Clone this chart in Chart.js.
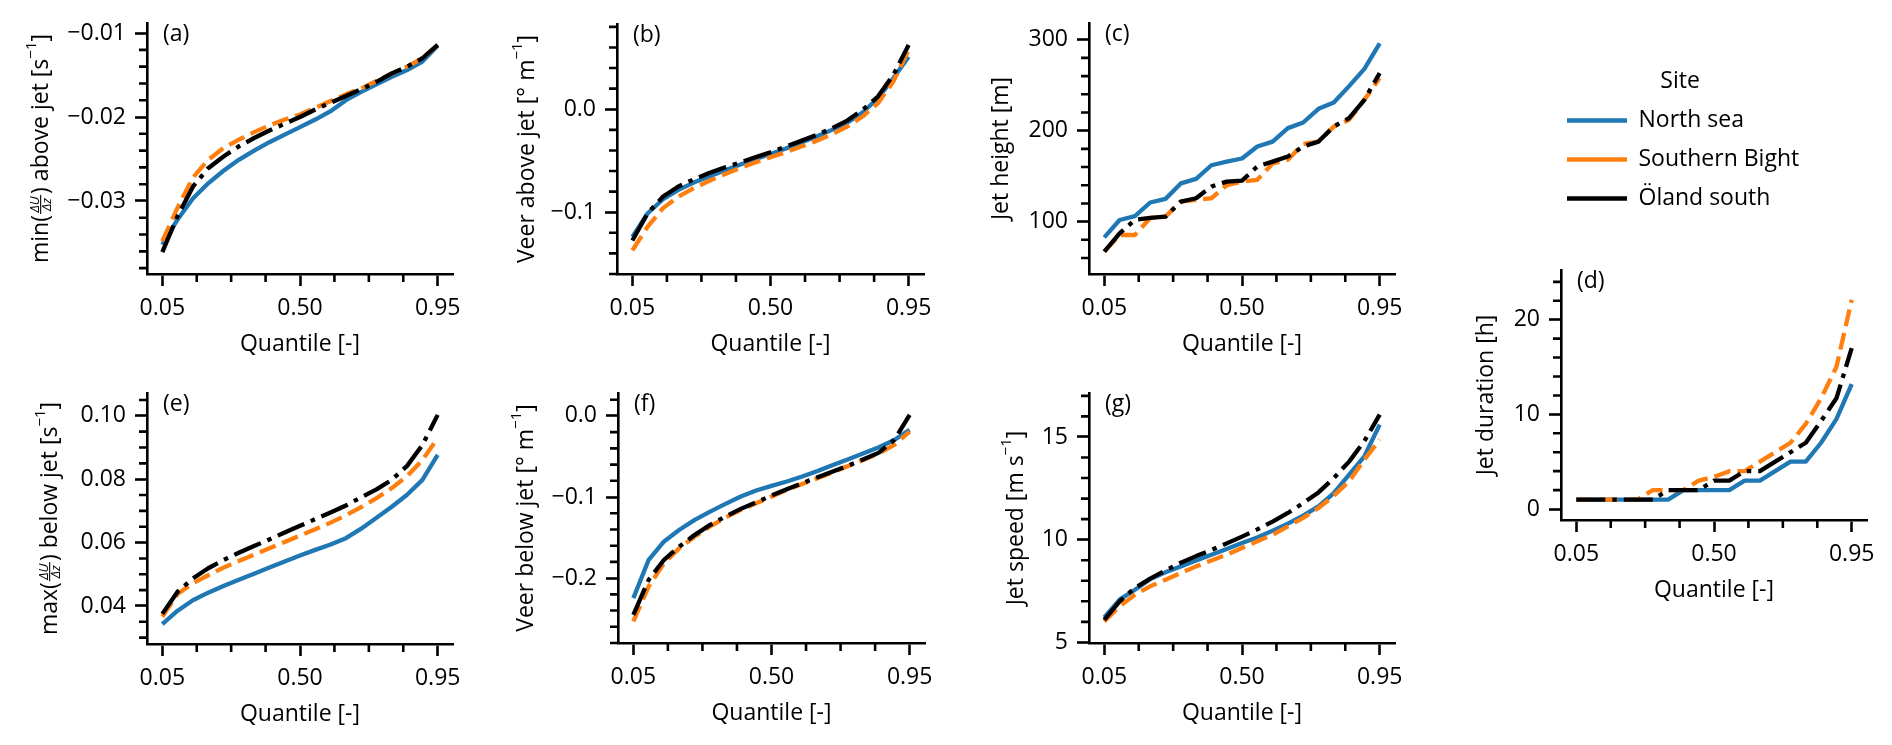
<!DOCTYPE html>
<html>
<head>
<meta charset="utf-8">
<title>Jet quantiles</title>
<script src="https://cdn.jsdelivr.net/npm/chart.js@4.4.1/dist/chart.umd.min.js"></script>
<style>
  html, body { margin: 0; padding: 0; background: #fff; }
  body { width: 1892px; height: 745px; position: relative; overflow: hidden; }
  canvas { position: absolute; }
</style>
</head>
<body>
<script>
// Shared quantile axis
const quantiles = [0.05, 0.10, 0.15, 0.20, 0.25, 0.30, 0.35, 0.40, 0.45, 0.50,
                   0.55, 0.60, 0.65, 0.70, 0.75, 0.80, 0.85, 0.90, 0.95];
const xTickValues = [0.05, 0.50, 0.95];
const xTickLabels = ['0.05', '0.50', '0.95'];
const xMinorTicks = [0.1625, 0.275, 0.3875, 0.6125, 0.725, 0.8375];

const sites = ['North sea', 'Southern Bight', 'Öland south'];

// (a) min shear above jet [s^-1]
const shearAboveNorthSea = [-0.0352, -0.0322, -0.0297, -0.0279, -0.0264, -0.0251, -0.0240, -0.0230, -0.0221, -0.0212,
                            -0.0203, -0.0193, -0.0180, -0.0170, -0.0161, -0.0152, -0.0144, -0.0134, -0.0115];
const shearAboveSouthernBight = [-0.0348, -0.0308, -0.0272, -0.0251, -0.0237, -0.0227, -0.0218, -0.0210, -0.0203, -0.0197,
                                 -0.0189, -0.0181, -0.0173, -0.0166, -0.0157, -0.0148, -0.0140, -0.0130, -0.0114];
const shearAboveOland = [-0.0361, -0.0318, -0.0283, -0.0261, -0.0247, -0.0235, -0.0225, -0.0216, -0.0208, -0.0200,
                         -0.0191, -0.0183, -0.0175, -0.0167, -0.0158, -0.0148, -0.0140, -0.0130, -0.0114];
const shearAboveTicks = [-0.03, -0.02, -0.01];
const shearAboveTickLabels = ['−0.03', '−0.02', '−0.01'];

// (b) veer above jet [deg m^-1]
const veerAboveNorthSea = [-0.124, -0.101, -0.0874, -0.0783, -0.0712, -0.0654, -0.0595, -0.054, -0.0485, -0.0434,
                           -0.0382, -0.0324, -0.0265, -0.020, -0.013, -0.0032, 0.0107, 0.030, 0.051];
const veerAboveSouthernBight = [-0.137, -0.114, -0.096, -0.0848, -0.0767, -0.0696, -0.0631, -0.0573, -0.0518, -0.0466,
                                -0.0417, -0.0362, -0.0307, -0.0243, -0.0168, -0.0071, 0.0058, 0.0269, 0.0576];
const veerAboveOland = [-0.1275, -0.101, -0.0848, -0.075, -0.068, -0.062, -0.0566, -0.0518, -0.0466, -0.0417,
                        -0.0362, -0.0307, -0.0249, -0.0184, -0.011, -0.0006, 0.0123, 0.0333, 0.0625];
const veerAboveTicks = [-0.1, 0.0];
const veerAboveTickLabels = ['−0.1', '0.0'];

// (c) jet height [m]
const heightNorthSea = [82.7, 101.8, 106, 121, 125, 142, 147, 162, 166, 169.4,
                        182.6, 188, 202.8, 209, 224, 231, 249, 268, 296];
const heightSouthernBight = [67, 85.3, 85.3, 104, 105.5, 122, 124, 125.7, 140, 144,
                             146, 164, 168, 185.5, 188, 204.6, 212, 234, 258];
const heightOland = [67, 87, 102, 104, 105.5, 122, 125.7, 138.5, 144, 145,
                     160.6, 166, 171.6, 182.6, 188, 204.6, 213.8, 234, 263.3];
const heightTicks = [100, 200, 300];
const heightTickLabels = ['100', '200', '300'];

// (d) jet duration [h]
const durationNorthSea = [1, 1, 1, 1, 1, 1, 1, 2, 2, 2, 2, 3, 3, 4, 5, 5, 7, 9.5, 13.2];
const durationSouthernBight = [1, 1, 1, 1, 1, 2, 2, 2, 3, 3.4, 4, 4, 5, 6, 7, 9, 11.7, 15, 22.1];
const durationOland = [1, 1, 1, 1, 1, 1, 2, 2, 2, 3, 3, 4, 4, 5, 6, 7, 9.3, 11.7, 17];
const durationTicks = [0, 10, 20];
const durationTickLabels = ['0', '10', '20'];

// (e) max shear below jet [s^-1]
const shearBelowNorthSea = [0.0343, 0.0385, 0.0418, 0.0442, 0.0463, 0.0483, 0.0502, 0.0521, 0.054, 0.0559,
                            0.0577, 0.0594, 0.0614, 0.0644, 0.0678, 0.0713, 0.0751, 0.0798, 0.0877];
const shearBelowSouthernBight = [0.0366, 0.0438, 0.0472, 0.0497, 0.0521, 0.0542, 0.0562, 0.0582, 0.0602, 0.0622,
                                 0.0642, 0.0663, 0.0686, 0.0712, 0.0740, 0.0772, 0.0810, 0.0860, 0.093];
const shearBelowOland = [0.0375, 0.0445, 0.0487, 0.0519, 0.0545, 0.0568, 0.0589, 0.061, 0.0632, 0.0653,
                         0.0674, 0.0695, 0.0717, 0.0743, 0.0768, 0.0798, 0.0842, 0.0908, 0.1003];
const shearBelowTicks = [0.04, 0.06, 0.08, 0.10];
const shearBelowTickLabels = ['0.04', '0.06', '0.08', '0.10'];

// (f) veer below jet [deg m^-1]
const veerBelowNorthSea = [-0.2246, -0.1774, -0.1548, -0.1404, -0.1281, -0.1179, -0.1084, -0.0994, -0.092, -0.0862,
                           -0.0809, -0.0747, -0.0678, -0.0604, -0.0534, -0.046, -0.0386, -0.0296, -0.0172];
const veerBelowSouthernBight = [-0.2534, -0.2103, -0.1815, -0.163, -0.1487, -0.1363, -0.1253, -0.1158, -0.1076, -0.0994,
                                -0.0912, -0.0838, -0.0768, -0.0694, -0.0616, -0.0542, -0.046, -0.0357, -0.0193];
const veerBelowOland = [-0.2452, -0.202, -0.1774, -0.161, -0.1466, -0.1343, -0.124, -0.1146, -0.1064, -0.0982,
                        -0.0903, -0.083, -0.0756, -0.0686, -0.0612, -0.0534, -0.0452, -0.0296, 0.0012];
const veerBelowTicks = [-0.2, -0.1, 0.0];
const veerBelowTickLabels = ['−0.2', '−0.1', '0.0'];

// (g) jet speed [m s^-1]
const speedNorthSea = [6.22, 7.08, 7.56, 8.08, 8.41, 8.7, 8.99, 9.27, 9.55, 9.84,
                       10.11, 10.44, 10.78, 11.17, 11.62, 12.27, 13.17, 14.06, 15.6];
const speedSouthernBight = [6.02, 6.75, 7.32, 7.73, 8.05, 8.38, 8.70, 8.99, 9.27, 9.59,
                            9.92, 10.24, 10.65, 11.06, 11.54, 12.14, 12.84, 13.9, 14.87];
const speedOland = [6.10, 7.0, 7.65, 8.1, 8.5, 8.88, 9.2, 9.5, 9.82, 10.15,
                    10.5, 10.88, 11.3, 11.78, 12.3, 13.0, 13.8, 14.8, 16.09];
const speedTicks = [5, 10, 15];
const speedTickLabels = ['5', '10', '15'];

// Styling
const FONT = "'Open Sans', 'DejaVu Sans', sans-serif";
const FONT_SIZE = 23;
const SUP_SIZE = 15;
const FRAC_SIZE = 13;
const siteColors = ['#1f77b4', '#ff7f0e', '#000000'];
const siteDashes = [[], [17, 7], [29, 7, 4.5, 7]];
const LINE_W = 4.3;
const AXIS_W = 2.6;
const MAJOR_LEN = 12;
const MINOR_LEN = 8;
const Y_AXIS_W = 147;
const X_AXIS_H = 100;
const PAD_TOP = 30;
const PAD_RIGHT = 30;

Chart.defaults.font.family = FONT;
Chart.defaults.font.size = FONT_SIZE;
Chart.defaults.color = '#000';

// Axis titles as rich text segments
const titleShearAbove = [{ t: 'min' }, { t: '(' }, { frac: ['ΔU', 'Δz'] }, { t: ')' }, { t: ' above jet [s' }, { sup: '−1' }, { t: ']' }];
const titleVeerAbove = [{ t: 'Veer above jet [° m' }, { sup: '−1' }, { t: ']' }];
const titleHeight = [{ t: 'Jet height [m]' }];
const titleDuration = [{ t: 'Jet duration [h]' }];
const titleShearBelow = [{ t: 'max' }, { t: '(' }, { frac: ['ΔU', 'Δz'] }, { t: ')' }, { t: ' below jet [s' }, { sup: '−1' }, { t: ']' }];
const titleVeerBelow = [{ t: 'Veer below jet [° m' }, { sup: '−1' }, { t: ']' }];
const titleSpeed = [{ t: 'Jet speed [m s' }, { sup: '−1' }, { t: ']' }];

// Panel layout (chart area edges in page pixels)
const panels = [
    { tag: '(a)', L: 147, T: 23, R: 453, B: 274, yMin: -0.0387, yMax: -0.0088, minorStep: 0.002,
      ticks: shearAboveTicks, tickLabels: shearAboveTickLabels, titleGap: 99, title: titleShearAbove,
      series: [shearAboveNorthSea, shearAboveSouthernBight, shearAboveOland] },
    { tag: '(b)', L: 617, T: 24, R: 924, B: 274, yMin: -0.160, yMax: 0.0828, minorStep: 0.02,
      ticks: veerAboveTicks, tickLabels: veerAboveTickLabels, titleGap: 83, title: titleVeerAbove,
      series: [veerAboveNorthSea, veerAboveSouthernBight, veerAboveOland] },
    { tag: '(c)', L: 1089, T: 23, R: 1395, B: 274, yMin: 42.4, yMax: 318.4, minorStep: 20,
      ticks: heightTicks, tickLabels: heightTickLabels, titleGap: 81, title: titleHeight,
      series: [heightNorthSea, heightSouthernBight, heightOland] },
    { tag: '(d)', L: 1561, T: 270, R: 1867, B: 520, yMin: -1.16, yMax: 25.25, minorStep: 2,
      ticks: durationTicks, tickLabels: durationTickLabels, titleGap: 68, title: titleDuration,
      series: [durationNorthSea, durationSouthernBight, durationOland] },
    { tag: '(e)', L: 147, T: 393, R: 453, B: 644, yMin: 0.028, yMax: 0.1072, minorStep: 0.005,
      ticks: shearBelowTicks, tickLabels: shearBelowTickLabels, titleGap: 90, title: titleShearBelow,
      series: [shearBelowNorthSea, shearBelowSouthernBight, shearBelowOland] },
    { tag: '(f)', L: 618, T: 393, R: 925, B: 643, yMin: -0.28, yMax: 0.0283, minorStep: 0.02,
      ticks: veerBelowTicks, tickLabels: veerBelowTickLabels, titleGap: 85, title: titleVeerBelow,
      series: [veerBelowNorthSea, veerBelowSouthernBight, veerBelowOland] },
    { tag: '(g)', L: 1089, T: 393, R: 1395, B: 643, yMin: 4.97, yMax: 17.14, minorStep: 1,
      ticks: speedTicks, tickLabels: speedTickLabels, titleGap: 66, title: titleSpeed,
      series: [speedNorthSea, speedSouthernBight, speedOland] }
];

function makeCanvas(left, top, width, height) {
    const c = document.createElement('canvas');
    c.width = width;
    c.height = height;
    Object.assign(c.style, { left: left + 'px', top: top + 'px', width: width + 'px', height: height + 'px' });
    document.body.appendChild(c);
    return c;
}

// Minor tick values between the axis limits, skipping the majors
function minorValues(min, max, step, majors) {
    const out = [];
    for (let k = Math.ceil(min / step - 1e-9); k <= Math.floor(max / step + 1e-9); k++) {
        const v = k * step;
        if (!majors.some(m => Math.abs(m - v) < step * 1e-3)) out.push(v);
    }
    return out;
}

function measureSeg(ctx, s) {
    if (s.frac) {
        ctx.font = `italic ${FRAC_SIZE}px ${FONT}`;
        return Math.max(ctx.measureText(s.frac[0]).width, ctx.measureText(s.frac[1]).width) + 5;
    }
    ctx.font = s.sup ? `${SUP_SIZE}px ${FONT}` : `${FONT_SIZE}px ${FONT}`;
    return ctx.measureText(s.sup || s.t).width;
}

// Draws a rotated-frame title centred on x = 0, baseline at y = 0
function drawRich(ctx, segs) {
    const widths = segs.map(s => measureSeg(ctx, s));
    let x = -widths.reduce((a, b) => a + b, 0) / 2;
    ctx.textAlign = 'left';
    ctx.textBaseline = 'alphabetic';
    segs.forEach((s, i) => {
        const w = widths[i];
        if (s.frac) {
            ctx.font = `italic ${FRAC_SIZE}px ${FONT}`;
            const nw = ctx.measureText(s.frac[0]).width;
            const dw = ctx.measureText(s.frac[1]).width;
            ctx.fillText(s.frac[0], x + (w - nw) / 2, -8.8);
            ctx.fillRect(x + 1, -7.9, w - 2, 1.1);
            ctx.fillText(s.frac[1], x + (w - dw) / 2, 3.2);
        } else if (s.sup) {
            ctx.font = `${SUP_SIZE}px ${FONT}`;
            ctx.fillText(s.sup, x, -12);
        } else {
            ctx.font = `${FONT_SIZE}px ${FONT}`;
            ctx.fillText(s.t, x, 0);
        }
        x += w;
    });
}

function makePanel(p) {
    const cl = p.L - Y_AXIS_W;
    const ct = p.T - PAD_TOP;
    const canvas = makeCanvas(cl, ct, p.R + PAD_RIGHT - cl, p.B + X_AXIS_H - ct);
    const yMinor = minorValues(p.yMin, p.yMax, p.minorStep, p.ticks);

    const decorPlugin = {
        id: 'panelDecor',
        afterDraw(chart) {
            const { ctx, chartArea } = chart;
            const xs = chart.scales.x;
            const ys = chart.scales.y;
            ctx.save();
            // minor ticks
            ctx.strokeStyle = '#000';
            ctx.lineWidth = AXIS_W;
            ctx.beginPath();
            xMinorTicks.forEach(v => {
                const px = xs.getPixelForValue(v);
                ctx.moveTo(px, chartArea.bottom);
                ctx.lineTo(px, chartArea.bottom + MINOR_LEN);
            });
            yMinor.forEach(v => {
                const py = ys.getPixelForValue(v);
                ctx.moveTo(chartArea.left - MINOR_LEN, py);
                ctx.lineTo(chartArea.left, py);
            });
            ctx.stroke();
            // panel letter
            ctx.fillStyle = '#000';
            ctx.font = `${FONT_SIZE}px ${FONT}`;
            ctx.textAlign = 'left';
            ctx.textBaseline = 'middle';
            ctx.fillText(p.tag, chartArea.left + 16, chartArea.top + 11);
            // y title
            ctx.translate(chartArea.left - p.titleGap, (chartArea.top + chartArea.bottom) / 2);
            ctx.rotate(-Math.PI / 2);
            drawRich(ctx, p.title);
            ctx.restore();
        }
    };

    new Chart(canvas, {
        type: 'line',
        data: {
            datasets: p.series.map((vals, i) => ({
                label: sites[i],
                data: quantiles.map((q, j) => ({ x: q, y: vals[j] })),
                borderColor: siteColors[i],
                borderWidth: LINE_W,
                borderDash: siteDashes[i],
                borderJoinStyle: 'round',
                pointRadius: 0,
                tension: 0,
                fill: false,
                order: 3 - i
            }))
        },
        options: {
            responsive: false,
            animation: false,
            events: [],
            layout: { padding: { top: PAD_TOP, right: PAD_RIGHT, left: 0, bottom: 0 } },
            plugins: { legend: { display: false }, tooltip: { enabled: false } },
            scales: {
                x: {
                    type: 'linear',
                    min: 0,
                    max: 1,
                    afterBuildTicks: s => { s.ticks = xTickValues.map(v => ({ value: v })); },
                    afterFit: s => { s.height = X_AXIS_H; },
                    ticks: { callback: (v, i) => xTickLabels[i], padding: 9, maxRotation: 0, autoSkip: false },
                    grid: { drawOnChartArea: false, tickLength: MAJOR_LEN, tickWidth: AXIS_W, tickColor: '#000' },
                    border: { color: '#000', width: AXIS_W },
                    title: { display: true, text: 'Quantile [-]', padding: { top: 0, bottom: 16 } }
                },
                y: {
                    type: 'linear',
                    min: p.yMin,
                    max: p.yMax,
                    afterBuildTicks: s => { s.ticks = p.ticks.map(v => ({ value: v })); },
                    afterFit: s => { s.width = Y_AXIS_W; },
                    ticks: { callback: (v, i) => p.tickLabels[i], padding: 9, autoSkip: false },
                    grid: { drawOnChartArea: false, tickLength: MAJOR_LEN, tickWidth: AXIS_W, tickColor: '#000' },
                    border: { color: '#000', width: AXIS_W }
                }
            }
        },
        plugins: [decorPlugin]
    });
}

panels.forEach(makePanel);

// Legend
const legendCanvas = makeCanvas(1551, 70, 700, 220);
new Chart(legendCanvas, {
    type: 'line',
    data: {
        datasets: sites.map((s, i) => ({
            label: s,
            data: [],
            borderColor: siteColors[i],
            borderWidth: LINE_W,
            borderDash: siteDashes[i]
        }))
    },
    options: {
        responsive: false,
        animation: false,
        events: [],
        layout: { padding: 0 },
        scales: { x: { display: false }, y: { display: false } },
        plugins: {
            tooltip: { enabled: false },
            legend: {
                position: 'left',
                align: 'start',
                title: { display: true, text: 'Site', font: { size: FONT_SIZE, lineHeight: 1 }, padding: 0 },
                labels: { usePointStyle: true, pointStyle: 'line', pointStyleWidth: 60, padding: 16, font: { size: FONT_SIZE } }
            }
        }
    }
});
</script>
</body>
</html>
